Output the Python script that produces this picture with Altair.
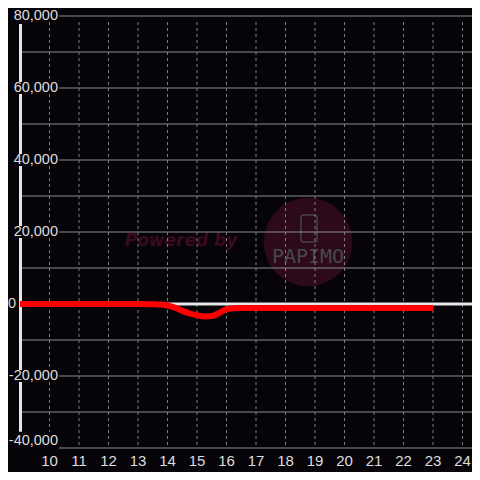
import altair as alt
import pandas as pd

# ---- data ----
hours = [9, 10, 11, 12, 13, 13.5, 13.75, 14, 14.25, 14.5, 14.75, 15, 15.25, 15.5,
         15.75, 16, 16.25, 16.5, 17, 18, 19, 20, 21, 22, 23]
values = [0, 0, 0, 0, 0, -50, -150, -400, -1000, -1900, -2600, -3100, -3450, -3350,
          -2500, -1450, -1150, -1100, -1100, -1100, -1100, -1100, -1100, -1100, -1100]

x_ticks = list(range(10, 25))
x_labels = [str(t) for t in x_ticks]
y_grid = list(range(-40000, 80001, 10000))
y_label_vals = [-20000, 20000, 40000, 60000, 80000]
y_label_text = ["-20,000", "20,000", "40,000", "60,000", "80,000"]
y_bottom_val = [-40000]
y_bottom_text = ["-40,000"]

BG = "#060409"
W, H = 452, 432
PX_PER_HOUR = 29.5
FONT = "Liberation Sans"
LABEL_RIGHT = 38

xs = alt.Scale(domain=[9, 9 + W / PX_PER_HOUR], nice=False, zero=False)
ys = alt.Scale(domain=[-40000, 80000], nice=False, zero=False)

one = pd.DataFrame({"a": [0]})
line_df = pd.DataFrame({"hour": hours, "value": values})
xt_df = pd.DataFrame({"x": x_ticks, "label": x_labels})
grid_df = pd.DataFrame({"y": y_grid})
lab_df = pd.DataFrame({"v": y_label_vals, "label": y_label_text})
bot_df = pd.DataFrame({"v": y_bottom_val, "label": y_bottom_text})

# watermark
wm_circle = alt.Chart(one).mark_circle(size=7854, color="#2c0a1c", opacity=1).encode(
    x=alt.value(288), y=alt.value(226))
wm_phone = alt.Chart(one).mark_rect(fillOpacity=0, stroke="#464646", strokeWidth=1.5,
                                    cornerRadius=3).encode(
    x=alt.value(281), x2=alt.value(297), y=alt.value(199), y2=alt.value(226))
wm_name = alt.Chart(one).mark_text(text="PAPIMO", font="DejaVu Sans Mono", fontSize=20,
                                   color="#484848").encode(x=alt.value(288), y=alt.value(241))
wm_pow = alt.Chart(one).mark_text(text="Powered by", font="DejaVu Sans", fontSize=17,
                                  fontStyle="italic", fontWeight="bold",
                                  color="#3a0a1f").encode(x=alt.value(161), y=alt.value(225))

# grid
hgrid = alt.Chart(grid_df).mark_rule(color="#8c8c8c", strokeWidth=1).encode(
    y=alt.Y("y:Q", scale=ys, axis=None), x=alt.value(0), x2=alt.value(W))
vgrid = alt.Chart(xt_df).mark_rule(color="#7c7c7c", strokeWidth=1, strokeDash=[3, 3]).encode(
    x=alt.X("x:Q", scale=xs, axis=None), y=alt.value(6), y2=alt.value(H))

axis_line = alt.Chart(one).mark_rule(color="#e6e6e6", strokeWidth=3).encode(
    x=alt.value(0.5), y=alt.value(8), y2=alt.value(419))
zero_line = alt.Chart(pd.DataFrame({"z": [0]})).mark_rule(color="#e6e6e6", strokeWidth=3).encode(
    y=alt.Y("z:Q", scale=ys, axis=None), x=alt.value(0), x2=alt.value(W))


def labels(df, lo_off, hi_off, dy):
    box = alt.Chart(df).transform_calculate(
        lo=f"datum.v - {lo_off}", hi=f"datum.v + {hi_off}"
    ).mark_rect(color=BG).encode(
        y=alt.Y("lo:Q", scale=ys, axis=None), y2="hi:Q",
        x=alt.value(-12), x2=alt.value(LABEL_RIGHT + 1))
    txt = alt.Chart(df).mark_text(align="right", baseline="middle", font=FONT,
                                  fontSize=14.5, color="#dddddd", dy=dy).encode(
        y=alt.Y("v:Q", scale=ys, axis=None), x=alt.value(LABEL_RIGHT), text="label:N")
    return [box, txt]


main_labels = labels(lab_df, 1700, 1700, 0)
bottom_labels = labels(bot_df, 1700, 4500, -7)

zero_label = alt.Chart(pd.DataFrame({"v": [0], "label": ["0"]})).mark_text(
    align="right", baseline="middle", font=FONT, fontSize=14.5, color="#dddddd").encode(
    y=alt.Y("v:Q", scale=ys, axis=None), x=alt.value(-4), text="label:N")

x_text = alt.Chart(xt_df).mark_text(align="center", baseline="alphabetic", font=FONT,
                                    fontSize=15, color="#dddddd").encode(
    x=alt.X("x:Q", scale=xs, axis=None), y=alt.value(H + 18), text="label:N")

red = alt.Chart(line_df).mark_line(color="#ff0000", strokeWidth=6, interpolate="monotone",
                                   strokeCap="butt").encode(
    x=alt.X("hour:Q", scale=xs, axis=None), y=alt.Y("value:Q", scale=ys, axis=None))

chart = alt.layer(
    wm_circle, wm_phone, wm_name, wm_pow, hgrid, vgrid, axis_line, zero_line,
    *main_labels, *bottom_labels, zero_label, x_text, red
).properties(
    width=W, height=H,
    autosize=alt.AutoSizeParams(type="none"),
    padding={"left": 12, "top": 8, "right": 0, "bottom": 24},
    background=BG,
).configure_view(stroke=None)

chart.save("out.html", embed_options={"renderer": "svg", "actions": False})
